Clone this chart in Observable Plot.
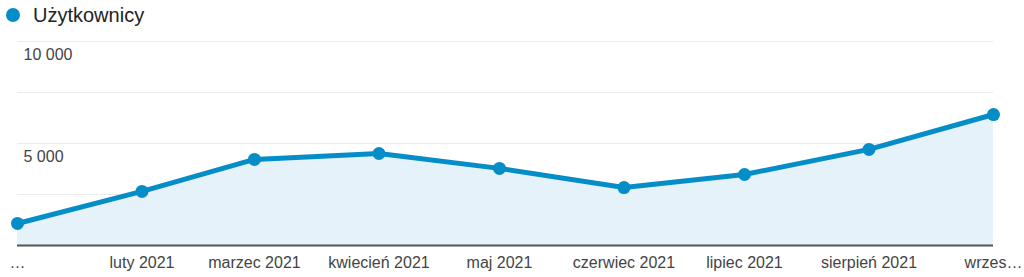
<!DOCTYPE html>
<html>
<head>
<meta charset="utf-8">
<script src="https://cdn.jsdelivr.net/npm/d3@7"></script>
<script src="https://cdn.jsdelivr.net/npm/@observablehq/plot@0.6"></script>
<style>
  html, body { margin: 0; padding: 0; background: #fff; }
  body { width: 1024px; height: 277px; overflow: hidden; font-family: Arial, "Liberation Sans", sans-serif; }
  #legend { height: 32px; position: relative; }
  #legend .dot { position: absolute; left: 6px; top: 8px; width: 14px; height: 14px; border-radius: 50%; background: #058dc7; }
  #legend .lbl { position: absolute; left: 33px; top: 3px; font-size: 20px; line-height: 24px; color: #222; }
  #chart svg { display: block; }
</style>
</head>
<body>
<div id="legend"><span class="dot"></span><span class="lbl">Użytkownicy</span></div>
<div id="chart"></div>
<script>
const seriesName = "Użytkownicy";
const months = ["2021-01-01", "2021-02-01", "2021-03-01", "2021-04-01", "2021-05-01", "2021-06-01", "2021-07-01", "2021-08-01", "2021-09-01"];
const users = [1080, 2650, 4220, 4510, 3780, 2840, 3480, 4710, 6420];
const xLabels = ["…", "luty 2021", "marzec 2021", "kwiecień 2021", "maj 2021", "czerwiec 2021", "lipiec 2021", "sierpień 2021", "wrzes…"];
const gridValues = [2500, 5000, 7500, 10000];
const yLabelValues = [10000, 5000];
const yLabelTexts = ["10 000", "5 000"];

const data = months.map((m, i) => ({ date: new Date(m + "T00:00:00Z"), value: users[i], label: xLabels[i] }));
const yLabels = yLabelValues.map((v, i) => ({ value: v, text: yLabelTexts[i] }));

const font = "Arial, 'Liberation Sans', sans-serif";

const chart = Plot.plot({
  width: 1024,
  height: 245,
  marginTop: 9,
  marginBottom: 32,
  marginLeft: 17,
  marginRight: 31,
  style: { fontFamily: font, background: "#fff", overflow: "visible" },
  x: { type: "utc", axis: null },
  y: { domain: [0, 10000], axis: null },
  marks: [
    Plot.ruleY(gridValues, { stroke: "#ebebeb", strokeWidth: 1 }),
    Plot.areaY(data, { x: "date", y: "value", fill: "#e6f2f9" }),
    Plot.ruleY([0], { stroke: "#555", strokeWidth: 2 }),
    Plot.lineY(data, { x: "date", y: "value", stroke: "#058dc7", strokeWidth: 5, strokeLinejoin: "round", strokeLinecap: "round" }),
    Plot.dot(data, { x: "date", y: "value", r: 6.5, fill: "#058dc7", stroke: "none" }),
    Plot.text(yLabels, { y: "value", text: "text", frameAnchor: "left", dx: 6, dy: 13, textAnchor: "start", fontSize: 16, fill: "#444" }),
    Plot.text(data, { x: "date", text: "label", frameAnchor: "bottom", dy: 17, fontSize: 16, fill: "#444", lineAnchor: "middle" })
  ]
});
document.getElementById("chart").appendChild(chart);
</script>
</body>
</html>
